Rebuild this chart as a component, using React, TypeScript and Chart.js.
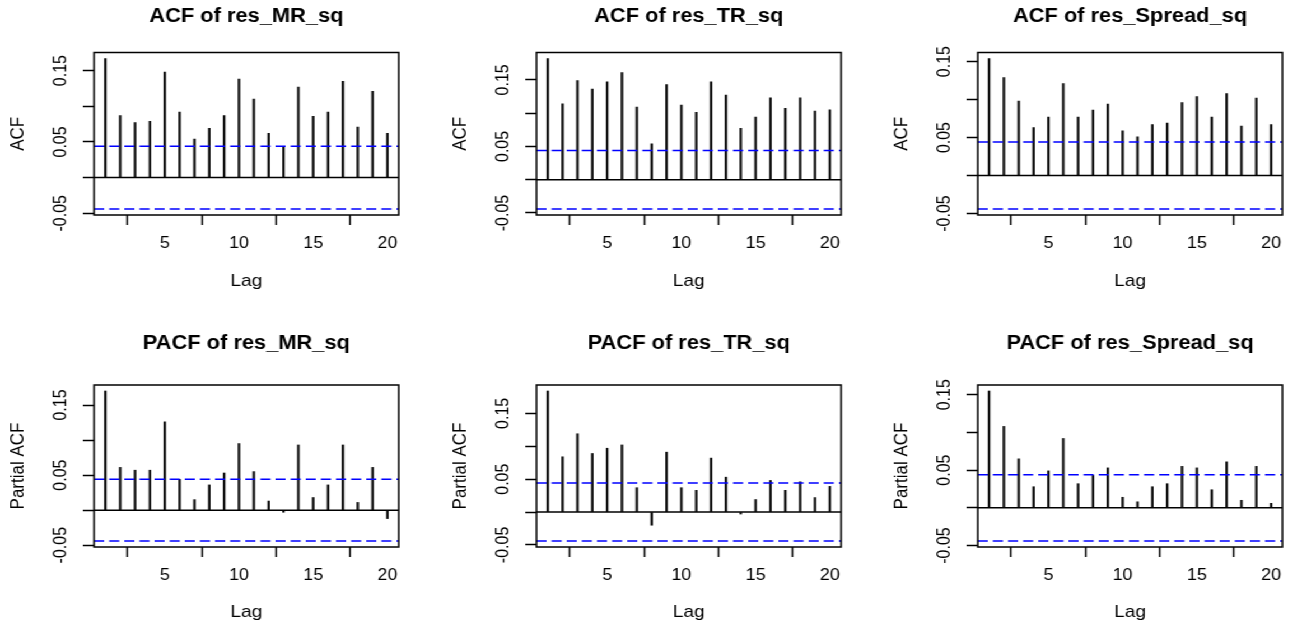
import React, { useEffect, useRef } from "react";
import { Chart, registerables } from "chart.js";

Chart.register(...registerables);

// ---------- data ----------
const lags = [1, 2, 3, 4, 5, 6, 7, 8, 9, 10, 11, 12, 13, 14, 15, 16, 17, 18, 19, 20];

const acfMR = [0.167, 0.087, 0.077, 0.079, 0.148, 0.092, 0.054, 0.069, 0.087, 0.138, 0.110, 0.062, 0.043, 0.127, 0.086, 0.092, 0.135, 0.071, 0.121, 0.062];
const acfTR = [0.182, 0.114, 0.149, 0.136, 0.147, 0.161, 0.109, 0.054, 0.143, 0.112, 0.101, 0.147, 0.127, 0.077, 0.094, 0.123, 0.107, 0.123, 0.103, 0.105];
const acfSpread = [0.154, 0.129, 0.098, 0.063, 0.077, 0.121, 0.077, 0.086, 0.094, 0.059, 0.051, 0.067, 0.069, 0.096, 0.104, 0.077, 0.108, 0.065, 0.102, 0.067];

const pacfMR = [0.170, 0.061, 0.057, 0.057, 0.126, 0.044, 0.015, 0.036, 0.053, 0.095, 0.055, 0.013, -0.003, 0.093, 0.018, 0.036, 0.093, 0.011, 0.061, -0.012];
const pacfTR = [0.184, 0.084, 0.119, 0.089, 0.097, 0.102, 0.037, -0.020, 0.091, 0.037, 0.033, 0.082, 0.053, -0.003, 0.019, 0.048, 0.033, 0.046, 0.022, 0.039];
const pacfSpread = [0.155, 0.108, 0.065, 0.028, 0.049, 0.092, 0.032, 0.043, 0.053, 0.014, 0.008, 0.028, 0.032, 0.055, 0.053, 0.024, 0.061, 0.010, 0.055, 0.006];

const confLimit = 0.044;

const titles = [
  "ACF of res_MR_sq", "ACF of res_TR_sq", "ACF of res_Spread_sq",
  "PACF of res_MR_sq", "PACF of res_TR_sq", "PACF of res_Spread_sq",
];
const seriesList = [acfMR, acfTR, acfSpread, pacfMR, pacfTR, pacfSpread];
const yTitles = ["ACF", "ACF", "ACF", "Partial ACF", "Partial ACF", "Partial ACF"];
const xTitle = "Lag";

const yTickValues = [-0.05, 0, 0.05, 0.1, 0.15];
const yTickLabels = ["-0.05", "", "0.05", "", "0.15"];
const xTickValues = [5, 10, 15, 20];
const xTickLabels = ["5", "10", "15", "20"];

// ---------- layout / style ----------
const STRETCH = 1.12;
const FONT = "'Liberation Sans', Arial, sans-serif";
const CANVAS_W = 395;
const CANVAS_H = 300;
const COL_STEP = 394.64;
const ROW_TOPS = [0, 331];
const ROW_TITLE_PAD = [
  { top: 5.3, bottom: 23.8 },
  { top: 0.5, bottom: 30.1 },
];
const ROW_XH = [85, 84];

const boxPlugin = {
  id: "rbox",
  afterDatasetsDraw(chart: any) {
    const { ctx, chartArea } = chart;
    const { left, top, right, bottom } = chartArea;
    ctx.save();
    ctx.strokeStyle = "#000";
    ctx.lineWidth = 1.5;
    ctx.strokeRect(left, top, right - left, bottom - top);
    ctx.restore();
  },
};

function makeConfig(idx: number): any {
  const values = seriesList[idx];
  const row = idx < 3 ? 0 : 1;
  const lo = Math.min(-confLimit, ...values);
  const hi = Math.max(confLimit, ...values);
  const ext = 0.04 * (hi - lo);
  const xlo = lags[0] - 0.04 * (lags[lags.length - 1] - lags[0]);
  const xhi = lags[lags.length - 1] + 0.04 * (lags[lags.length - 1] - lags[0]);

  return {
    type: "bar",
    data: {
      datasets: [
        {
          type: "line",
          order: 1,
          data: [{ x: xlo, y: confLimit }, { x: xhi, y: confLimit }],
          borderColor: "#0000FF",
          borderWidth: 1.5,
          borderDash: [9, 4.5],
          pointRadius: 0,
        },
        {
          type: "line",
          order: 1,
          data: [{ x: xlo, y: -confLimit }, { x: xhi, y: -confLimit }],
          borderColor: "#0000FF",
          borderWidth: 1.5,
          borderDash: [9, 4.5],
          pointRadius: 0,
        },
        {
          type: "line",
          order: 2,
          data: [{ x: xlo, y: 0 }, { x: xhi, y: 0 }],
          borderColor: "#000",
          borderWidth: 1.5,
          pointRadius: 0,
        },
        {
          type: "bar",
          order: 3,
          data: lags.map((l, i) => ({ x: l, y: values[i] })),
          backgroundColor: "#111",
          barThickness: 1.6,
          grouped: false,
        },
      ],
    },
    options: {
      responsive: false,
      animation: false,
      events: [],
      layout: { padding: { left: 0, right: 39, top: 0, bottom: 0 } },
      plugins: {
        legend: { display: false },
        tooltip: { enabled: false },
        title: {
          display: true,
          text: titles[idx],
          color: "#000",
          fullSize: false,
          font: { family: FONT, size: 19.5, weight: "bold", lineHeight: 1.2 },
          padding: ROW_TITLE_PAD[row],
        },
      },
      scales: {
        x: {
          type: "linear",
          min: xlo,
          max: xhi,
          offset: false,
          afterBuildTicks: (s: any) => {
            s.ticks = xTickValues.map((v) => ({ value: v }));
          },
          afterFit: (s: any) => {
            s.height = ROW_XH[row];
          },
          grid: {
            display: true,
            drawOnChartArea: false,
            drawTicks: true,
            tickLength: 10,
            tickColor: "#000",
            tickWidth: 1.5,
          },
          border: { display: false },
          ticks: {
            autoSkip: false,
            maxRotation: 0,
            minRotation: 0,
            padding: 9,
            color: "#000",
            font: { family: FONT, size: 16 },
            callback: (v: any) => {
              const k = xTickValues.indexOf(Number(v));
              return k >= 0 ? xTickLabels[k] : "";
            },
          },
          title: {
            display: true,
            text: xTitle,
            color: "#000",
            font: { family: FONT, size: 17, lineHeight: 1.2 },
            padding: { top: 0, bottom: 8.8 },
          },
        },
        y: {
          type: "linear",
          min: lo - ext,
          max: hi + ext,
          afterBuildTicks: (s: any) => {
            s.ticks = yTickValues
              .filter((v) => v >= lo - ext && v <= hi + ext)
              .map((v) => ({ value: v }));
          },
          afterFit: (s: any) => {
            s.width = 84;
          },
          grid: {
            display: true,
            drawOnChartArea: false,
            drawTicks: true,
            tickLength: 10,
            tickColor: "#000",
            tickWidth: 1.5,
          },
          border: { display: false },
          ticks: {
            minRotation: 90,
            maxRotation: 90,
            crossAlign: "center",
            padding: 1,
            autoSkip: false,
            color: "#000",
            font: { family: FONT, size: 16 },
            callback: (v: any) => {
              const k = yTickValues.findIndex((t) => Math.abs(t - Number(v)) < 1e-9);
              return k >= 0 ? yTickLabels[k] : "";
            },
          },
          title: {
            display: true,
            text: yTitles[idx],
            color: "#000",
            font: { family: FONT, size: 17, lineHeight: 1.2 },
            padding: { top: 6.2, bottom: 0 },
          },
        },
      },
    },
    plugins: [boxPlugin],
  };
}

export default function App() {
  const refs = useRef<(HTMLCanvasElement | null)[]>([]);

  useEffect(() => {
    document.documentElement.style.overflow = "hidden";
    const charts: Chart[] = [];
    for (let i = 0; i < 6; i++) {
      const c = refs.current[i];
      if (c) charts.push(new Chart(c, makeConfig(i)));
    }
    return () => charts.forEach((ch) => ch.destroy());
  }, []);

  return (
    <div
      style={{
        position: "absolute",
        left: 0,
        top: 0,
        width: 1295 / STRETCH,
        height: 623,
        overflow: "hidden",
        background: "#fff",
        transform: `scaleX(${STRETCH})`,
        transformOrigin: "0 0",
      }}
    >
      {titles.map((t, i) => {
        const col = i % 3;
        const row = i < 3 ? 0 : 1;
        return (
          <canvas
            key={t}
            ref={(el) => {
              refs.current[i] = el;
            }}
            width={CANVAS_W}
            height={CANVAS_H}
            style={{
              position: "absolute",
              left: Math.round(col * COL_STEP),
              top: ROW_TOPS[row],
              width: CANVAS_W,
              height: CANVAS_H,
            }}
          />
        );
      })}
    </div>
  );
}
